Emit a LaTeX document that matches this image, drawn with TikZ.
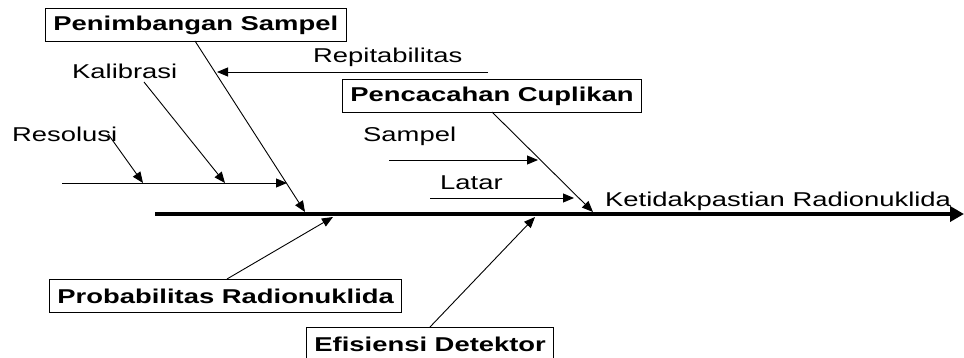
\documentclass[tikz,border=0pt]{standalone}
\usepackage{fontspec}
\usepackage{graphicx}
\setmainfont{Liberation Sans}
\usetikzlibrary{arrows.meta}
\newcommand{\sx}[1]{\scalebox{1.37}[1]{#1}}
\begin{document}
\begin{tikzpicture}[x=1pt,y=-1pt,
  lbl/.style={anchor=base west,inner sep=0pt,font=\fontsize{20}{22}\selectfont},
  causebox/.style={draw=black,line width=0.9pt,anchor=north west,minimum height=33pt,inner xsep=8pt,inner ysep=0pt,font=\fontsize{20}{22}\selectfont\bfseries},
  thinarrow/.style={line width=0.9pt,-{Triangle[length=11pt,width=9pt]}},
  spinearrow/.style={line width=3.5pt,-{Triangle[length=14pt,width=15pt]}}]
\clip (0,0) rectangle (964,358);

% spine
\coordinate (s0) at (155,214);
\coordinate (s1) at (964,214);
\draw[spinearrow] (s0) -- (s1);
\node[lbl] (effect) at (605,207) {\sx{Ketidakpastian Radionuklida}};

% Penimbangan Sampel
\node[causebox] (pen) at (45,8) {\sx{Penimbangan Sampel}};
\coordinate (penTop) at (195,41);
\coordinate (penTip) at (305,212);
\draw[thinarrow] (penTop) -- (penTip);

\node[lbl] (rep) at (313,63) {\sx{Repitabilitas}};
\coordinate (repStart) at (488,72);
\coordinate (repTip) at (217,72);
\draw[thinarrow] (repStart) -- (repTip);

\coordinate (sub0) at (62,183);
\coordinate (subTip) at (287,183);
\draw[thinarrow] (sub0) -- (subTip);

\node[lbl] (kal) at (72,79) {\sx{Kalibrasi}};
\coordinate (kalStart) at (144,82);
\coordinate (kalTip) at (225,183);
\draw[thinarrow] (kalStart) -- (kalTip);

\node[lbl] (res) at (12,142) {\sx{Resolusi}};
\coordinate (resStart) at (108,134);
\coordinate (resTip) at (143,183);
\draw[thinarrow] (resStart) -- (resTip);

% Pencacahan Cuplikan
\node[causebox] (pc) at (342,79) {\sx{Pencacahan Cuplikan}};
\coordinate (pcTop) at (492,112);
\coordinate (pcTip) at (593,212);
\draw[thinarrow] (pcTop) -- (pcTip);

\node[lbl] (samp) at (363,142) {\sx{Sampel}};
\coordinate (sampStart) at (389,160);
\coordinate (sampTip) at (538,160);
\draw[thinarrow] (sampStart) -- (sampTip);

\node[lbl] (lat) at (440,190) {\sx{Latar}};
\coordinate (latStart) at (430,198);
\coordinate (latTip) at (574,198);
\draw[thinarrow] (latStart) -- (latTip);

% Probabilitas Radionuklida
\node[causebox] (prob) at (49,279) {\sx{Probabilitas Radionuklida}};
\coordinate (probTop) at (227,279);
\coordinate (probTip) at (333,217);
\draw[thinarrow] (probTop) -- (probTip);

% Efisiensi Detektor
\node[causebox] (efi) at (306,327) {\sx{Efisiensi Detektor}};
\coordinate (efiTop) at (430,327);
\coordinate (efiTip) at (535,217);
\draw[thinarrow] (efiTop) -- (efiTip);
\end{tikzpicture}
\end{document}
